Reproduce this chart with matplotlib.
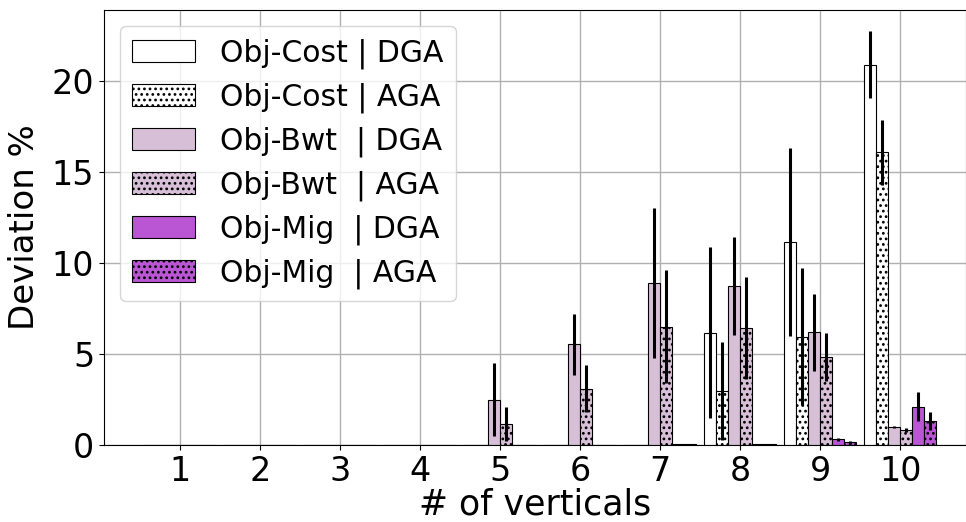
import numpy as np
import matplotlib
matplotlib.use('Agg')
from matplotlib import pyplot as plt

# data ---------------------------------------------------------------

verticals = [1, 2, 3, 4, 5, 6, 7, 8, 9, 10]

cost_dga = [0.0, 0.0, 0.0, 0.0, 0.0, 0.0, 0.02, 6.17, 11.14, 20.9]
cost_dga_err = [0.0, 0.0, 0.0, 0.0, 0.0, 0.0, 0.0, 4.7, 5.17, 1.85]
cost_aga = [0.0, 0.0, 0.0, 0.0, 0.0, 0.0, 0.02, 2.98, 5.95, 16.08]
cost_aga_err = [0.0, 0.0, 0.0, 0.0, 0.0, 0.0, 0.0, 2.7, 3.77, 1.8]

bwt_dga = [0.0, 0.0, 0.0, 0.0, 2.5, 5.53, 8.9, 8.74, 6.19, 0.97]
bwt_dga_err = [0.0, 0.0, 0.0, 0.0, 2.0, 1.67, 4.1, 2.7, 2.1, 0.06]
bwt_aga = [0.0, 0.0, 0.0, 0.0, 1.15, 3.1, 6.5, 6.45, 4.82, 0.82]
bwt_aga_err = [0.0, 0.0, 0.0, 0.0, 0.95, 1.3, 3.1, 2.8, 1.33, 0.12]

mig_dga = [0.0, 0.0, 0.0, 0.0, 0.0, 0.02, 0.03, 0.03, 0.31, 2.1]
mig_dga_err = [0.0, 0.0, 0.0, 0.0, 0.0, 0.0, 0.0, 0.0, 0.1, 0.8]
mig_aga = [0.0, 0.0, 0.0, 0.0, 0.0, 0.02, 0.03, 0.03, 0.16, 1.34]
mig_aga_err = [0.0, 0.0, 0.0, 0.0, 0.0, 0.0, 0.0, 0.0, 0.08, 0.5]

labels = ['Obj-Cost | DGA', 'Obj-Cost | AGA',
          'Obj-Bwt  | DGA', 'Obj-Bwt  | AGA',
          'Obj-Mig  | DGA', 'Obj-Mig  | AGA']

# ------------------------------------------------------------------------

series = [
    (cost_dga, cost_dga_err, 'white', ''),
    (cost_aga, cost_aga_err, 'white', '...'),
    (bwt_dga, bwt_dga_err, '#d8bfd8', ''),
    (bwt_aga, bwt_aga_err, '#d8bfd8', '...'),
    (mig_dga, mig_dga_err, '#ba55d3', ''),
    (mig_aga, mig_aga_err, '#ba55d3', '...'),
]

plt.rcParams['hatch.linewidth'] = 1.2

fig = plt.figure(figsize=(9.66, 5.22), dpi=100)
ax = fig.add_axes([0.1077, 0.1475, 0.8923, 0.8333])

x = np.array(verticals, dtype=float)
w = 0.15
for i, (vals, errs, col, hat) in enumerate(series):
    off = (i - 2.5) * w
    ax.bar(x + off, vals, w, yerr=errs, color=col, hatch=hat,
           edgecolor='black', linewidth=0.8, label=labels[i],
           error_kw=dict(elinewidth=2.2, ecolor='black', capsize=0))

ax.set_axisbelow(True)
ax.grid(True, color='#b0b0b0', linewidth=1.0)
ax.set_xlim(0.05, 10.82)
ax.set_ylim(0, 23.9)
ax.set_xticks(verticals)
ax.set_yticks([0, 5, 10, 15, 20])
ax.tick_params(labelsize=24)
ax.set_xlabel('# of verticals', fontsize=25, labelpad=0)
ax.set_ylabel('Deviation %', fontsize=24.5, labelpad=8)

ax.legend(loc='upper left', fontsize=21.5, bbox_to_anchor=(0.0, 1.0),
          borderaxespad=0.55, handlelength=2.1, handleheight=0.75,
          handletextpad=0.85, labelspacing=0.45)

plt.savefig('out.png', dpi=100)
